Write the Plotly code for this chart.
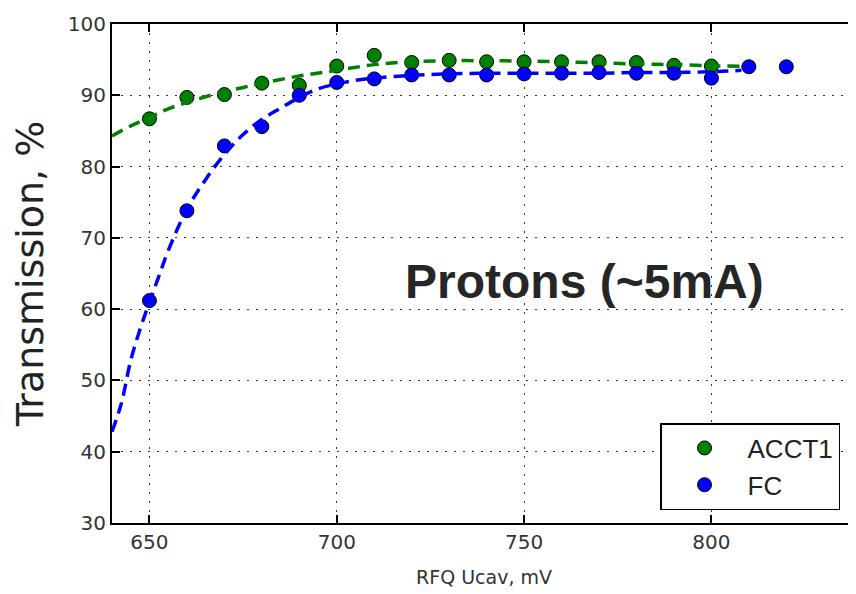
import plotly.graph_objects as go

# Measured points
ucav_acct = [650, 660, 670, 680, 690, 700, 710, 720, 730, 740, 750, 760, 770, 780, 790, 800]
acct1 = [86.7, 89.7, 90.1, 91.7, 91.4, 94.1, 95.6, 94.6, 94.9, 94.7, 94.7, 94.7, 94.7, 94.6, 94.2, 94.1]

ucav_fc = [650, 660, 670, 680, 690, 700, 710, 720, 730, 740, 750, 760, 770, 780, 790, 800, 810, 820]
fc = [61.2, 73.8, 82.9, 85.6, 90.0, 91.8, 92.3, 92.85, 92.85, 92.85, 93.0, 93.1, 93.2, 93.1, 93.1, 92.4, 94.0, 94.0]

# Fit curves
fit_acct_x = [640, 645, 650, 655, 660, 665, 670, 675, 680, 690, 700, 710, 720, 730, 740, 750, 760, 770, 780, 790, 800, 808]
fit_acct_y = [84.3, 85.7, 86.9, 88.1, 89.0, 89.8, 90.5, 91.1, 91.7, 92.7, 93.5, 94.3, 94.7, 94.85, 94.85, 94.8, 94.7, 94.55, 94.4, 94.3, 94.15, 94.05]

fit_fc_x = [640, 642.5, 645, 647.5, 650, 652.5, 655, 660, 665, 670, 675, 680, 685, 690, 695, 700, 705, 710, 720, 730, 740, 750, 760, 770, 780, 790, 800, 808]
fit_fc_y = [42.8, 46.8, 52.8, 57.2, 61.0, 64.6, 68.2, 74.0, 78.2, 81.7, 84.5, 86.6, 88.2, 89.7, 90.9, 91.6, 92.1, 92.4, 92.8, 93.0, 93.1, 93.1, 93.1, 93.1, 93.2, 93.2, 93.3, 93.5]

x_ticks = [650, 700, 750, 800]
y_ticks = [30, 40, 50, 60, 70, 80, 90, 100]

GREEN = "#008000"
BLUE = "#0000ff"

fig = go.Figure()
fig.add_trace(go.Scatter(x=ucav_acct, y=acct1, mode="markers", name="ACCT1",
                         marker=dict(color=GREEN, size=14, line=dict(color="black", width=1))))
fig.add_trace(go.Scatter(x=ucav_fc, y=fc, mode="markers", name="FC",
                         marker=dict(color=BLUE, size=14, line=dict(color="black", width=1))))
fig.add_trace(go.Scatter(x=fit_acct_x, y=fit_acct_y, mode="lines", showlegend=False,
                         line=dict(color=GREEN, width=3.5, dash="12px,7px", shape="spline")))
fig.add_trace(go.Scatter(x=fit_fc_x, y=fit_fc_y, mode="lines", showlegend=False,
                         line=dict(color=BLUE, width=3.5, dash="12px,7px", shape="spline")))

fig.add_annotation(x=766.2, y=63.9, xref="x", yref="y", text="<b>Protons (~5mA)</b>",
                   showarrow=False, xanchor="center", yanchor="middle",
                   font=dict(family="Liberation Sans, Arial, sans-serif", size=48, color="#262626"))

axis_font = dict(family="DejaVu Sans", size=20, color="#333333")
fig.update_layout(
    width=856, height=594,
    margin=dict(l=104, r=8, t=16, b=79, autoexpand=False),
    paper_bgcolor="white", plot_bgcolor="white",
    showlegend=True,
    legend=dict(x=0.7366, y=0.026, xanchor="left", yanchor="bottom",
                bgcolor="white", bordercolor="black", borderwidth=1.5,
                font=dict(family="Liberation Sans, Arial", size=26, color="#222"),
                itemwidth=76, tracegroupgap=0, entrywidth=182, entrywidthmode="pixels"),
    xaxis=dict(range=[640, 838.6], tickvals=x_ticks, ticks="inside", ticklen=8, tickwidth=1.5,
               tickcolor="black", showline=True, linecolor="black", linewidth=2, mirror="ticks",
               showgrid=True, gridcolor="#333333", gridwidth=1, griddash="2px,7px",
               zeroline=False, tickfont=axis_font, automargin=False,
               title=dict(text="RFQ Ucav, mV", font=dict(family="DejaVu Sans", size=19, color="#333333"),
                          standoff=18)),
    yaxis=dict(range=[30, 100], tickvals=y_ticks, ticks="inside", ticklen=8, tickwidth=1.5,
               tickcolor="black", showline=True, linecolor="black", linewidth=2, mirror=False,
               showgrid=True, gridcolor="#333333", gridwidth=1, griddash="2px,7px",
               zeroline=False, tickfont=axis_font, automargin=False,
               title=dict(text="Transmission, %", font=dict(family="DejaVu Sans", size=38, color="#222222"),
                          standoff=16)),
)

fig.write_html("out.html")
